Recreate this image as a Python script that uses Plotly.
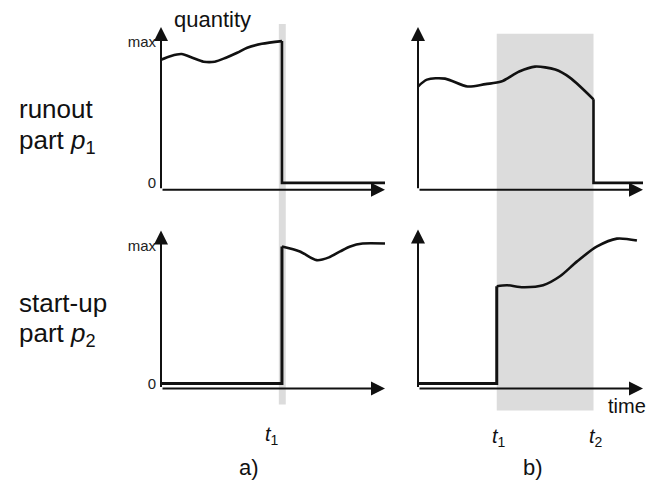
import plotly.graph_objects as go

# ---------------- data (schematic values, time units / normalized quantity) ----------------
T_END = 10.0
# panel a)
a_t1 = 5.4
a_run_t = [0, 0.45, 0.92, 1.4, 1.9, 2.4, 2.9, 3.4, 3.85, 4.5, 5.4]
a_run_q = [0.873, 0.90, 0.913, 0.887, 0.859, 0.859, 0.887, 0.922, 0.958, 0.986, 1.005]
a_start_t = [5.4, 6.2, 6.95, 7.5, 8.0, 8.45, 9.0, 10.0]
a_start_q = [0.993, 0.957, 0.894, 0.914, 0.957, 0.993, 1.014, 1.014]
# panel b)
b_t1 = 3.5
b_t2 = 7.8
b_run_t = [0, 0.4, 1.2, 2.2, 3.0, 3.7, 4.5, 5.2, 6.1, 6.75, 7.8]
b_run_q = [0.683, 0.732, 0.739, 0.683, 0.70, 0.718, 0.789, 0.824, 0.803, 0.746, 0.592]
b_start_t = [3.5, 3.96, 4.67, 5.56, 6.31, 7.07, 7.96, 8.84, 9.73]
b_start_q = [0.705, 0.712, 0.698, 0.712, 0.777, 0.885, 0.993, 1.050, 1.036]

y_tickvals = [0, 1]
y_ticktext = ["0", "max"]

# the page body keeps an 8px margin, so the figure is 8px smaller and offset
OFF = 8
W, H = 657 - OFF, 484 - OFF
FONT = "Liberation Sans, Arial, sans-serif"
INK = "#111111"
BAND = "#dcdcdc"

def px_x(p):
    return (p - OFF) / W

def px_y(p):
    return 1 - (p - OFF) / H

fig = go.Figure()

line = dict(color=INK, width=2.6)

# top-left (runout, a)
fig.add_trace(go.Scatter(x=a_run_t, y=a_run_q, mode="lines", line=dict(line, shape="spline", smoothing=0.8),
                         xaxis="x", yaxis="y", hoverinfo="skip"))
fig.add_trace(go.Scatter(x=[a_t1, a_t1, T_END], y=[a_run_q[-1], 0, 0], mode="lines", line=line,
                         xaxis="x", yaxis="y", hoverinfo="skip"))
# top-right (runout, b)
fig.add_trace(go.Scatter(x=b_run_t, y=b_run_q, mode="lines", line=dict(line, shape="spline", smoothing=0.8),
                         xaxis="x2", yaxis="y2", hoverinfo="skip"))
fig.add_trace(go.Scatter(x=[b_t2, b_t2, T_END], y=[b_run_q[-1], 0, 0], mode="lines", line=line,
                         xaxis="x2", yaxis="y2", hoverinfo="skip"))
# bottom-left (start-up, a)
fig.add_trace(go.Scatter(x=[0, a_t1, a_t1], y=[0, 0, a_start_q[0]], mode="lines", line=dict(color=INK, width=3),
                         xaxis="x3", yaxis="y3", hoverinfo="skip"))
fig.add_trace(go.Scatter(x=a_start_t, y=a_start_q, mode="lines", line=dict(line, shape="spline", smoothing=0.8),
                         xaxis="x3", yaxis="y3", hoverinfo="skip"))
# bottom-right (start-up, b)
fig.add_trace(go.Scatter(x=[0, b_t1, b_t1], y=[0, 0, b_start_q[0]], mode="lines", line=dict(color=INK, width=3),
                         xaxis="x4", yaxis="y4", hoverinfo="skip"))
fig.add_trace(go.Scatter(x=b_start_t, y=b_start_q, mode="lines", line=dict(line, shape="spline", smoothing=0.8),
                         xaxis="x4", yaxis="y4", hoverinfo="skip"))

# axis geometry (reference pixel layout)
left_a, left_b = 161, 418
span_px = 226
unit_a, unit_b = 22.4, 22.5
top_zero, top_unit, top_axis = 184, 142, 191
bot_zero, bot_unit, bot_axis = 386, 139, 391

def xax(dom_l, unit):
    return dict(domain=[px_x(dom_l), px_x(dom_l + span_px)], range=[0, span_px / unit],
                visible=False, fixedrange=True)

def yax(zero, unit, axis_px, top_px, xanchor, labels):
    d = dict(domain=[px_y(axis_px), px_y(top_px)],
             range=[-(axis_px - zero) / unit, (zero - top_px) / unit],
             showgrid=False, zeroline=False, showline=False, fixedrange=True,
             anchor=xanchor)
    if labels:
        d.update(tickvals=y_tickvals, ticktext=y_ticktext, ticks="", ticklabelstandoff=4,
                 tickfont=dict(family=FONT, size=15, color="#222222"))
    else:
        d.update(showticklabels=False)
    return d

fig.update_layout(
    width=W, height=H, margin=dict(l=0, r=0, t=0, b=0),
    paper_bgcolor="white", plot_bgcolor="rgba(0,0,0,0)", showlegend=False,
    xaxis=dict(xax(left_a, unit_a), anchor="y"),
    yaxis=yax(top_zero, top_unit, top_axis, 20, "x", True),
    xaxis2=dict(xax(left_b, unit_b), anchor="y2"),
    yaxis2=yax(top_zero, top_unit, top_axis, 20, "x2", False),
    xaxis3=dict(xax(left_a, unit_a), anchor="y3"),
    yaxis3=yax(bot_zero, bot_unit, bot_axis, 225, "x3", True),
    xaxis4=dict(xax(left_b, unit_b), anchor="y4"),
    yaxis4=yax(bot_zero, bot_unit, bot_axis, 225, "x4", False),
)

# grey time windows
fig.add_shape(type="rect", xref="x", yref="paper", x0=a_t1 - 0.14, x1=a_t1 + 0.17,
              y0=px_y(407), y1=px_y(24), fillcolor=BAND, line_width=0, layer="below")
fig.add_shape(type="rect", xref="x2", yref="paper", x0=b_t1, x1=b_t2,
              y0=px_y(413), y1=px_y(34), fillcolor=BAND, line_width=0, layer="below")

# axes with arrow heads
def arrow(xr, yr, x0, y0, x1, y1):
    fig.add_annotation(x=x1, y=y1, ax=x0, ay=y0, xref=xr, yref=yr, axref=xr, ayref=yr,
                       text="", showarrow=True, arrowhead=2, arrowsize=1.4, arrowwidth=2,
                       arrowcolor=INK, standoff=0, startstandoff=0)

for xr, yr, zero, unit, axis_px, tip in [("x", "y", top_zero, top_unit, top_axis, 27),
                                          ("x2", "y2", top_zero, top_unit, top_axis, 27),
                                          ("x3", "y3", bot_zero, bot_unit, bot_axis, 232),
                                          ("x4", "y4", bot_zero, bot_unit, bot_axis, 231)]:
    yb = -(axis_px - zero) / unit
    arrow(xr, yr, 0, yb, T_END, yb)
    arrow(xr, yr, 0, yb, 0, (zero - tip) / unit)

def txt(s, x, y, size, xref="paper", yref="paper", xanchor="center"):
    fig.add_annotation(text=s, x=x, y=y, xref=xref, yref=yref, xanchor=xanchor, yanchor="middle",
                       showarrow=False, font=dict(family=FONT, size=size, color=INK))

txt("quantity", px_x(212), px_y(20), 22)
txt("runout", px_x(17), px_y(110), 26, xanchor="left")
txt("part <i>p</i><sub>1</sub>", px_x(17), px_y(142), 26, xanchor="left")
txt("start-up", px_x(17), px_y(305), 26, xanchor="left")
txt("part <i>p</i><sub>2</sub>", px_x(17), px_y(337), 26, xanchor="left")
txt("time", px_x(627), px_y(409), 20)
txt("<i>t</i><sub>1</sub>", a_t1 - 0.45, px_y(438), 20, xref="x3")
txt("<i>t</i><sub>1</sub>", b_t1 + 0.1, px_y(440), 20, xref="x4")
txt("<i>t</i><sub>2</sub>", b_t2 + 0.1, px_y(440), 20, xref="x4")
txt("a)", px_x(249), px_y(470), 22)
txt("b)", px_x(533), px_y(470), 22)

fig.write_html("out.html")
